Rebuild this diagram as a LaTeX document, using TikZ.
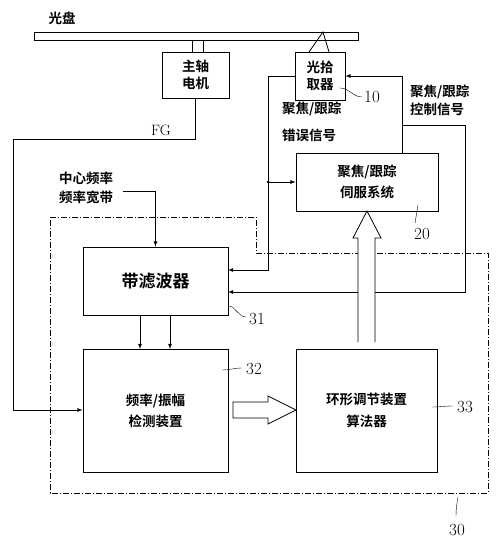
\documentclass[tikz,border=0pt]{standalone}
\usepackage{fontspec}
\newfontfamily\cjk{Noto Sans CJK SC}[BoldFont={Noto Sans CJK SC Bold}]
\tikzset{every node/.style={inner sep=0pt}}
\tikzset{b/.style={rectangle,draw,thick,align=center}}
\tikzset{t/.style={align=left,anchor=west}}
\tikzset{n/.style={font=\fontsize{17}{17}\selectfont}}
\tikzset{a/.style={thick,->,>=latex}}
\tikzset{h/.style={thick,fill=white,line join=miter}}

\begin{document}
\begin{tikzpicture}[x=1pt,y=-1pt,font=\cjk\bfseries\fontsize{13.5}{17}\selectfont]
  \useasboundingbox (0,0) rectangle (500,545);
  % disc, spindle motor and pickup
  \node (discl) at (62,18) {光盘};
  \node[b,minimum width=324,minimum height=8] (disc) at (196,36) {};
  \node[b,minimum width=67,minimum height=46] (motor) at (195.5,75) {主轴\\电机};
  \node[b,minimum width=50,minimum height=48] (pick) at (320,76) {光拾\\取器};
  \draw[thick] (192,40) -- (192,52) (203,40) -- (203,52);
  \draw[thick] (309,52) -- (323,32) -- (329,52);
  \node[n] (n10) at (372,97) {10};
  \draw (340,88) to[out=0,in=180] (362,97);
  % servo
  \node[b,minimum width=142,minimum height=58,font=\cjk\bfseries\fontsize{13.5}{21}\selectfont] (servo) at (367,182) {聚焦/跟踪\\伺服系统};
  \node[n] (n20) at (422,234) {20};
  \draw (418,205) -- (415,223);
  \node[t,font=\cjk\bfseries\fontsize{13.5}{27}\selectfont] (errl) at (282,122) {聚焦/跟踪\\错误信号};
  \node[t,font=\cjk\bfseries\fontsize{13.5}{18}\selectfont] (ctll) at (410,100) {聚焦/跟踪\\控制信号};
  % block 30
  \draw[thick,dash pattern=on 6pt off 2pt on 1pt off 2pt] (50,217) -- (256,217) -- (256,253) -- (488,253) -- (488,493) -- (50,493) -- cycle;
  \node[n] (n30) at (457,530) {30};
  \draw (458,497) to[out=-100,in=90] (456,516);
  \node[b,minimum width=145,minimum height=68] (filt) at (155.5,281) {\fontsize{17}{17}\selectfont 带滤波器};
  \node[n] (n31) at (257,319) {31};
  \draw (228,306) to[out=0,in=180] (246,317);
  \node[b,minimum width=145,minimum height=123,font=\cjk\bfseries\fontsize{13.5}{21}\selectfont] (det) at (155.5,410.5) {频率/振幅\\检测装置};
  \node[n] (n32) at (254,369) {32};
  \draw (222,370) to[out=0,in=180] (242,368);
  \node[b,minimum width=141,minimum height=123,font=\cjk\bfseries\fontsize{13.5}{22}\selectfont] (loop) at (366.5,410.5) {环形调节装置\\算法器};
  \node[n] (n33) at (465,407) {33};
  \draw (432,407) to[out=0,in=180] (453,406);
  \node[t,font=\cjk\bfseries\fontsize{13.5}{19}\selectfont] (cfl) at (59,187.5) {中心频率\\频率宽带};
  % points on the lines
  \coordinate (e1) at (268,182);
  \coordinate (e2) at (228,270);
  \coordinate (c1) at (402,153);
  \coordinate (c2) at (402,125);
  \coordinate (c3) at (228,292);
  \coordinate (fg) at (13,410);
  % signal lines
  \draw[a] (motor.south) |- (13,139) -- (fg) -- (fg -| det.west);
  \node[font=\fontsize{15}{15}\selectfont] (fgl) at (161,130) {FG};
  \draw[a] (pick.west) -| (268,270) -- (e2);
  \draw[a] (e1) -- (servo.west);
  \fill (e1) circle (1.5pt);
  \draw[a] (c1) |- (pick.east);
  \draw[a] (c2) -| (465,292) -- (c3);
  \draw[a] (123,191) -| (filt.north);
  \draw[a] (140,315) -- (140,349);
  \draw[a] (170,315) -- (170,349);
  % hollow arrows
  \draw[h] (233,402) -- (268,402) -- (268,396) -- (296,410) -- (268,424) -- (268,418) -- (233,418) -- cycle;
  \draw[h] (358,342) -- (358,238) -- (353,238) -- (367,211) -- (381,238) -- (375,238) -- (375,342);
\end{tikzpicture}
\end{document}
